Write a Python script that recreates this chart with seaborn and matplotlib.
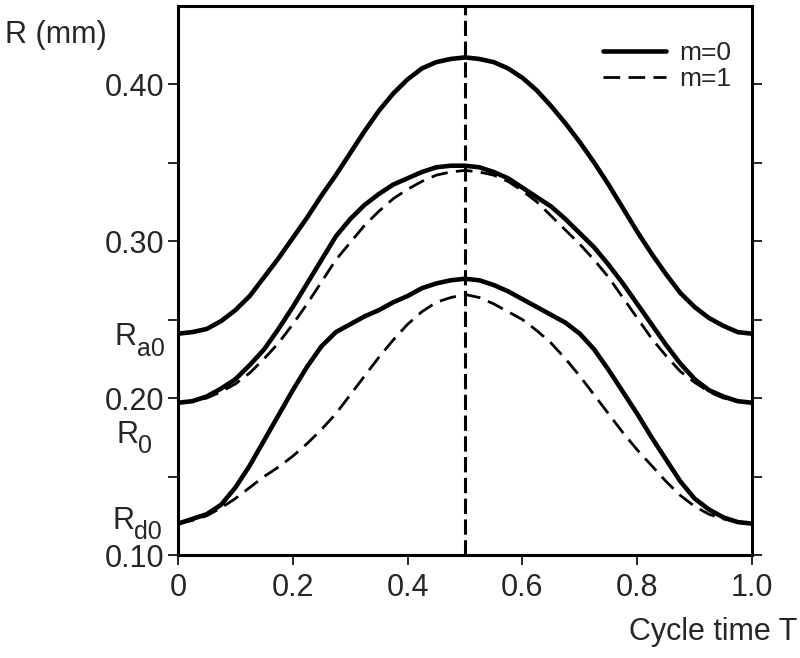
import numpy as np
import pandas as pd
import matplotlib
matplotlib.use("Agg")
import matplotlib.pyplot as plt
import seaborn as sns
from matplotlib.ticker import FixedLocator, FixedFormatter


# ==================================================
# DATA
# ==================================================
cycle_t = [0.000, 0.025, 0.050, 0.075, 0.100, 0.125, 0.150, 0.175, 0.200, 0.225,
           0.250, 0.275, 0.300, 0.325, 0.350, 0.375, 0.400, 0.425, 0.450, 0.475,
           0.500, 0.525, 0.550, 0.575, 0.600, 0.625, 0.650, 0.675, 0.700, 0.725,
           0.750, 0.775, 0.800, 0.825, 0.850, 0.875, 0.900, 0.925, 0.950, 0.975,
           1.000]

# m=0 (solid)
r_a_m0 = [0.241, 0.242, 0.244, 0.249, 0.256, 0.265, 0.277, 0.289, 0.302, 0.315,
          0.329, 0.342, 0.356, 0.370, 0.383, 0.394, 0.403, 0.410, 0.414, 0.416,
          0.417, 0.416, 0.414, 0.410, 0.404, 0.396, 0.386, 0.375, 0.363, 0.350,
          0.336, 0.321, 0.306, 0.292, 0.279, 0.267, 0.258, 0.251, 0.246, 0.242,
          0.241]
r_0_m0 = [0.197, 0.198, 0.201, 0.206, 0.212, 0.221, 0.231, 0.244, 0.258, 0.273,
          0.288, 0.303, 0.314, 0.323, 0.330, 0.336, 0.340, 0.344, 0.347, 0.348,
          0.348, 0.347, 0.344, 0.340, 0.334, 0.328, 0.322, 0.314, 0.305, 0.296,
          0.285, 0.273, 0.260, 0.247, 0.234, 0.222, 0.212, 0.205, 0.201, 0.198,
          0.197]
r_d_m0 = [0.120, 0.123, 0.126, 0.132, 0.143, 0.157, 0.173, 0.189, 0.205, 0.220,
          0.233, 0.242, 0.247, 0.252, 0.256, 0.261, 0.265, 0.270, 0.273, 0.275,
          0.276, 0.275, 0.272, 0.268, 0.263, 0.258, 0.253, 0.248, 0.241, 0.231,
          0.218, 0.204, 0.190, 0.175, 0.161, 0.147, 0.136, 0.129, 0.124, 0.121,
          0.120]

# m=1 (dashed)
r_0_m1 = [0.197, 0.198, 0.200, 0.204, 0.209, 0.216, 0.225, 0.235, 0.247, 0.260,
          0.274, 0.288, 0.299, 0.310, 0.319, 0.327, 0.333, 0.338, 0.342, 0.344,
          0.345, 0.344, 0.342, 0.338, 0.332, 0.325, 0.316, 0.307, 0.298, 0.288,
          0.277, 0.264, 0.251, 0.238, 0.227, 0.217, 0.210, 0.204, 0.200, 0.198,
          0.197]
r_d_m1 = [0.120, 0.122, 0.125, 0.130, 0.136, 0.143, 0.150, 0.156, 0.163, 0.171,
          0.180, 0.190, 0.202, 0.214, 0.226, 0.237, 0.247, 0.255, 0.261, 0.264,
          0.266, 0.264, 0.260, 0.255, 0.250, 0.243, 0.235, 0.225, 0.214, 0.202,
          0.190, 0.178, 0.167, 0.157, 0.147, 0.138, 0.131, 0.126, 0.123, 0.121,
          0.120]

x_ticks = [0.0, 0.2, 0.4, 0.6, 0.8, 1.0]
x_tick_labels = ["0", "0.2", "0.4", "0.6", "0.8", "1.0"]
y_ticks = [0.10, 0.20, 0.30, 0.40]
y_tick_labels = ["0.10", "0.20", "0.30", "0.40"]
y_minor = [0.15, 0.25, 0.35]

# ==================================================
# STYLE
# ==================================================
sns.set_style("ticks")
plt.rcParams["font.family"] = ["Liberation Sans", "DejaVu Sans"]

fig = plt.figure(figsize=(8, 6.58), dpi=100)
ax = fig.add_axes([0.2225, 0.1565, 0.7175, 0.835])

df = pd.DataFrame({
    "t": cycle_t,
    "a_m0": r_a_m0,
    "o_m0": r_0_m0,
    "d_m0": r_d_m0,
    "o_m1": r_0_m1,
    "d_m1": r_d_m1,
})

# solid curves, m=0
for col, lab in [("a_m0", "m=0"), ("o_m0", "_nolegend_"), ("d_m0", "_nolegend_")]:
    sns.lineplot(data=df, x="t", y=col, ax=ax, color="black",
                 linewidth=3.3, label=lab, legend=False,
                 solid_joinstyle="round", solid_capstyle="round")

# dashed curves, m=1
for col, lab in [("o_m1", "m=1"), ("d_m1", "_nolegend_")]:
    sns.lineplot(data=df, x="t", y=col, ax=ax, color="black",
                 linewidth=2.0, label=lab, legend=False)
    ax.lines[-1].set_dashes((6, 3))

# mid-cycle marker
vline = ax.axvline(0.5, color="black", linewidth=2.2)
vline.set_dashes((5, 1.8))

ax.set_xlim(0, 1.0)
ax.set_ylim(0.10, 0.45)
ax.set_xlabel("")
ax.set_ylabel("")

ax.xaxis.set_major_locator(FixedLocator(x_ticks))
ax.xaxis.set_major_formatter(FixedFormatter(x_tick_labels))
ax.yaxis.set_major_locator(FixedLocator(y_ticks))
ax.yaxis.set_major_formatter(FixedFormatter(y_tick_labels))
ax.yaxis.set_minor_locator(FixedLocator(y_minor))

for s in ax.spines.values():
    s.set_linewidth(2.2)
    s.set_color("black")

ax.tick_params(axis="both", which="both", direction="out", length=7,
               width=1.2, color="black", labelsize=22)
ax.tick_params(axis="y", which="both", right=True, labelright=False, pad=3)
ax.tick_params(axis="x", which="major", pad=6)

# curve base labels: R with a large subscript
ytr = ax.get_yaxis_transform()
for xpos, ypos, sub in [(-0.023, 0.227, "a0"), (-0.045, 0.165, "0"), (-0.028, 0.110, "d0")]:
    t_sub = ax.text(xpos, ypos, sub, transform=ytr, ha="right",
                    va="baseline", fontsize=18)
    ax.annotate("R", xy=(0, 0), xycoords=t_sub, xytext=(0, 11),
                textcoords="offset points", ha="right", va="baseline",
                fontsize=22)

fig.text(0.006, 0.947, "R (mm)", ha="left", va="center", fontsize=22)
fig.text(0.997, 0.04, "Cycle time T", ha="right", va="center", fontsize=22)

ax.legend(loc="upper right", bbox_to_anchor=(1.005, 0.978), frameon=False,
          fontsize=19, handlelength=2.4, labelspacing=0.05, handletextpad=0.5)

fig.savefig("out.png", dpi=100)
